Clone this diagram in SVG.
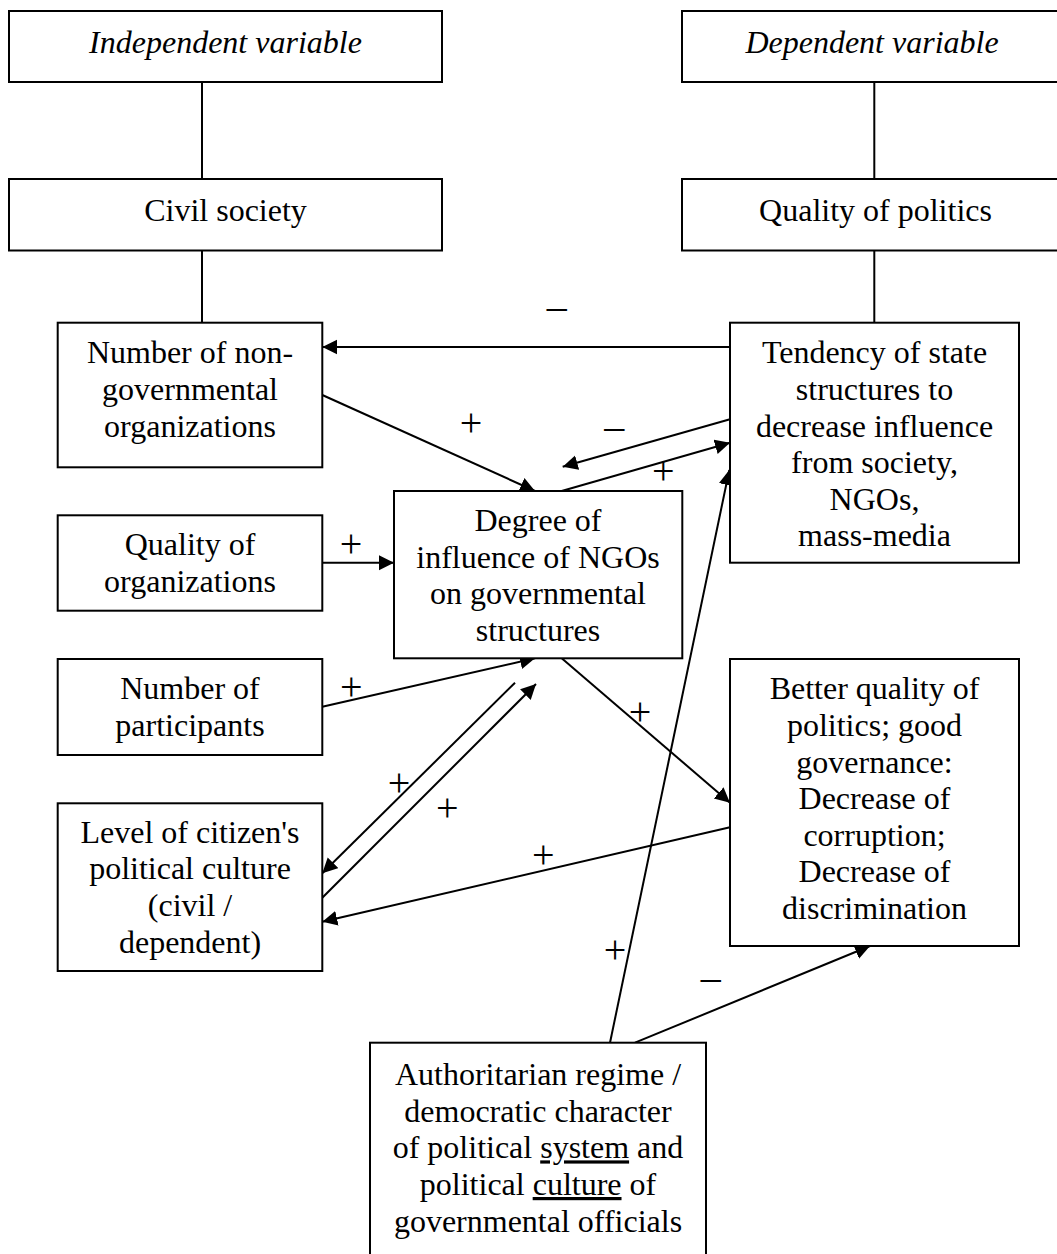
<svg xmlns="http://www.w3.org/2000/svg" width="1057" height="1254" viewBox="0 0 1057 1254">
<style>
.box{fill:#fff;stroke:#000;stroke-width:2}
.t{font-family:"Liberation Serif","Times New Roman",serif;font-size:32px;fill:#000;text-anchor:middle}
.l{font-family:"Liberation Serif","Times New Roman",serif;font-size:40px;fill:#000;text-anchor:middle}
.i{font-style:italic}
.c{stroke:#000;stroke-width:2;fill:none}
.a{marker-end:url(#ah)}
.u{text-decoration:underline}
</style>
<defs>
<marker id="ah" markerUnits="userSpaceOnUse" markerWidth="16" markerHeight="16" refX="15" refY="7.5" orient="auto">
<path d="M0,0 L15,7.5 L0,15 z" fill="#000"/>
</marker>
</defs>
<rect width="1057" height="1254" fill="#fff"/>
<g id="connectors">
<line class="c" x1="202" y1="82" x2="202" y2="179"/>
<line class="c" x1="202" y1="250.5" x2="202" y2="322.7"/>
<line class="c" x1="874.3" y1="82" x2="874.3" y2="179"/>
<line class="c" x1="874.3" y1="250.5" x2="874.3" y2="322.7"/>
<line class="c a" x1="730" y1="347" x2="322.3" y2="347"/>
<line class="c a" x1="322.3" y1="395" x2="535" y2="491"/>
<line class="c a" x1="730" y1="419.3" x2="562.7" y2="466.7"/>
<line class="c a" x1="561.7" y1="491" x2="730" y2="442.7"/>
<line class="c a" x1="322.3" y1="562.7" x2="394" y2="562.7"/>
<line class="c a" x1="322.3" y1="706.7" x2="535" y2="658.3"/>
<line class="c a" x1="515" y1="682.7" x2="322.3" y2="873.3"/>
<line class="c a" x1="322.3" y1="897.7" x2="536" y2="684"/>
<line class="c a" x1="561.7" y1="658.3" x2="730" y2="802.7"/>
<line class="c a" x1="730" y1="827.3" x2="322.3" y2="921.7"/>
<line class="c a" x1="610" y1="1042.7" x2="729.3" y2="470"/>
<line class="c a" x1="635" y1="1042.7" x2="870" y2="946"/>
</g>
<g id="labels" class="l">
<text x="556.7" y="318.5">–</text>
<text x="471" y="435.7">+</text>
<text x="614.3" y="438.5">–</text>
<text x="663.3" y="484.3">+</text>
<text x="351" y="556.7">+</text>
<text x="351.3" y="700">+</text>
<text x="399" y="795.7">+</text>
<text x="447.3" y="820.7">+</text>
<text x="543.3" y="868.3">+</text>
<text x="640" y="725">+</text>
<text x="615" y="963.3">+</text>
<text x="710.7" y="990">–</text>
</g>
<g id="independent">
<rect class="box" x="9" y="11" width="433" height="71"/>
<text class="t i" x="225.5" y="53">Independent variable</text>
</g>
<g id="dependent">
<rect class="box" x="682" y="11" width="390" height="71"/>
<text class="t i" x="872" y="53">Dependent variable</text>
</g>
<g id="civil">
<rect class="box" x="9" y="179" width="433" height="71.5"/>
<text class="t" x="225.5" y="221">Civil society</text>
</g>
<g id="quality-politics">
<rect class="box" x="682" y="179" width="390" height="71.5"/>
<text class="t" x="875.5" y="221">Quality of politics</text>
</g>
<g id="number-ngo">
<rect class="box" x="57.7" y="322.7" width="264.6" height="144.6"/>
<text class="t" x="190" y="363">Number of non-</text>
<text class="t" x="190" y="400">governmental</text>
<text class="t" x="190" y="436.5">organizations</text>
</g>
<g id="quality-org">
<rect class="box" x="57.7" y="515.3" width="264.6" height="95.4"/>
<text class="t" x="190" y="555.3">Quality of</text>
<text class="t" x="190" y="592">organizations</text>
</g>
<g id="participants">
<rect class="box" x="57.7" y="659" width="264.6" height="96"/>
<text class="t" x="190" y="699.3">Number of</text>
<text class="t" x="190" y="736">participants</text>
</g>
<g id="level">
<rect class="box" x="57.7" y="803.3" width="264.6" height="167.7"/>
<text class="t" x="190" y="842.7">Level of citizen's</text>
<text class="t" x="190" y="879.3">political culture</text>
<text class="t" x="190" y="916">(civil /</text>
<text class="t" x="190" y="952.7">dependent)</text>
</g>
<g id="degree">
<rect class="box" x="394" y="491" width="288.3" height="167.3"/>
<text class="t" x="538" y="531">Degree of</text>
<text class="t" x="538" y="568">influence of NGOs</text>
<text class="t" x="538" y="604.3">on governmental</text>
<text class="t" x="538" y="640.7">structures</text>
</g>
<g id="tendency">
<rect class="box" x="730" y="322.7" width="289" height="240"/>
<text class="t" x="874.5" y="363.3">Tendency of state</text>
<text class="t" x="874.5" y="400">structures to</text>
<text class="t" x="874.5" y="436.6">decrease influence</text>
<text class="t" x="874.5" y="473.2">from society,</text>
<text class="t" x="874.5" y="509.8">NGOs,</text>
<text class="t" x="874.5" y="546.4">mass-media</text>
</g>
<g id="better">
<rect class="box" x="730" y="659" width="289" height="287"/>
<text class="t" x="874.5" y="699.3">Better quality of</text>
<text class="t" x="874.5" y="735.9">politics; good</text>
<text class="t" x="874.5" y="772.5">governance:</text>
<text class="t" x="874.5" y="809.1">Decrease of</text>
<text class="t" x="874.5" y="845.7">corruption;</text>
<text class="t" x="874.5" y="882.3">Decrease of</text>
<text class="t" x="874.5" y="918.9">discrimination</text>
</g>
<g id="authoritarian">
<rect class="box" x="370" y="1042.7" width="336" height="240"/>
<text class="t" x="538" y="1085">Authoritarian regime /</text>
<text class="t" x="538" y="1121.7">democratic character</text>
<text class="t" x="538" y="1158.4">of political <tspan class="u">system</tspan> and</text>
<text class="t" x="538" y="1195">political <tspan class="u">culture</tspan> of</text>
<text class="t" x="538" y="1231.7">governmental officials</text>
</g>
</svg>
